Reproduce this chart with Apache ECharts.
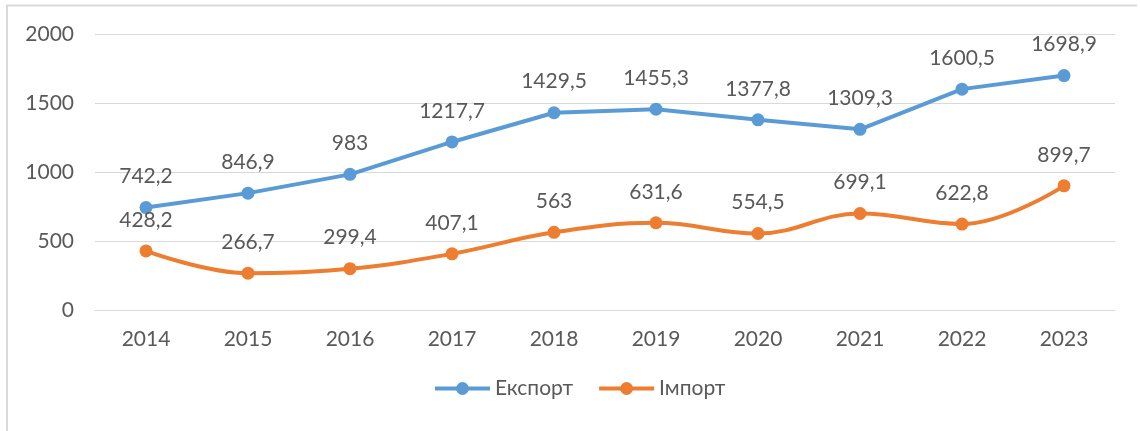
<!DOCTYPE html>
<html>
<head>
<meta charset="utf-8">
<script src="https://cdn.jsdelivr.net/npm/echarts@6/dist/echarts.min.js"></script>
<style>
html,body{margin:0;padding:0;background:#fff;}
#chart{width:1140px;height:431px;}
</style>
</head>
<body>
<div id="chart"></div>
<script>
const years = ['2014','2015','2016','2017','2018','2019','2020','2021','2022','2023'];
const exportValues = [742.2, 846.9, 983, 1217.7, 1429.5, 1455.3, 1377.8, 1309.3, 1600.5, 1698.9];
const importValues = [428.2, 266.7, 299.4, 407.1, 563, 631.6, 554.5, 699.1, 622.8, 899.7];
const seriesNames = ['Експорт', 'Імпорт'];
const yTicks = [0, 500, 1000, 1500, 2000];

const FONT = 'Lato';
const TXT = '#595959';
const fmt = p => String(p.value).replace('.', ',');

const chart = echarts.init(document.getElementById('chart'));
chart.setOption({
  animation: false,
  textStyle: {fontFamily: FONT},
  graphic: [{
    type: 'polyline',
    shape: {points: [[7, 431], [7, 5.5], [1137, 5.5]]},
    style: {stroke: '#d9d9d9', lineWidth: 2, fill: null}
  }],
  grid: {left: 95, right: 25, top: 34, bottom: 121, containLabel: false},
  legend: {
    bottom: 27,
    left: 428,
    itemWidth: 55,
    itemHeight: 16,
    itemGap: 24,
    lineStyle: {width: 4},
    textStyle: {color: TXT, fontSize: 21, fontFamily: FONT},
    data: seriesNames
  },
  xAxis: {
    type: 'category',
    data: years,
    boundaryGap: true,
    axisLine: {show: true, lineStyle: {color: '#d9d9d9', width: 1}},
    axisTick: {show: false},
    axisLabel: {color: TXT, fontSize: 21, margin: 19, fontFamily: FONT}
  },
  yAxis: {
    type: 'value',
    min: yTicks[0],
    max: yTicks[yTicks.length - 1],
    interval: 500,
    axisLine: {show: false},
    axisTick: {show: false},
    splitLine: {lineStyle: {color: '#d9d9d9', width: 1}},
    axisLabel: {color: TXT, fontSize: 21, margin: 21, fontFamily: FONT, formatter: v => String(v)}
  },
  series: [
    {
      name: seriesNames[0],
      type: 'line',
      data: exportValues,
      smooth: false,
      symbol: 'circle',
      symbolSize: 13,
      lineStyle: {color: '#5B9BD5', width: 4},
      itemStyle: {color: '#5B9BD5'},
      label: {show: true, position: 'top', distance: 14, color: TXT, fontSize: 21, fontFamily: FONT, formatter: fmt}
    },
    {
      name: seriesNames[1],
      type: 'line',
      data: importValues,
      smooth: 0.4,
      symbol: 'circle',
      symbolSize: 13,
      lineStyle: {color: '#ED7D31', width: 4},
      itemStyle: {color: '#ED7D31'},
      label: {show: true, position: 'top', distance: 14, color: TXT, fontSize: 21, fontFamily: FONT, formatter: fmt}
    }
  ]
});
</script>
</body>
</html>
